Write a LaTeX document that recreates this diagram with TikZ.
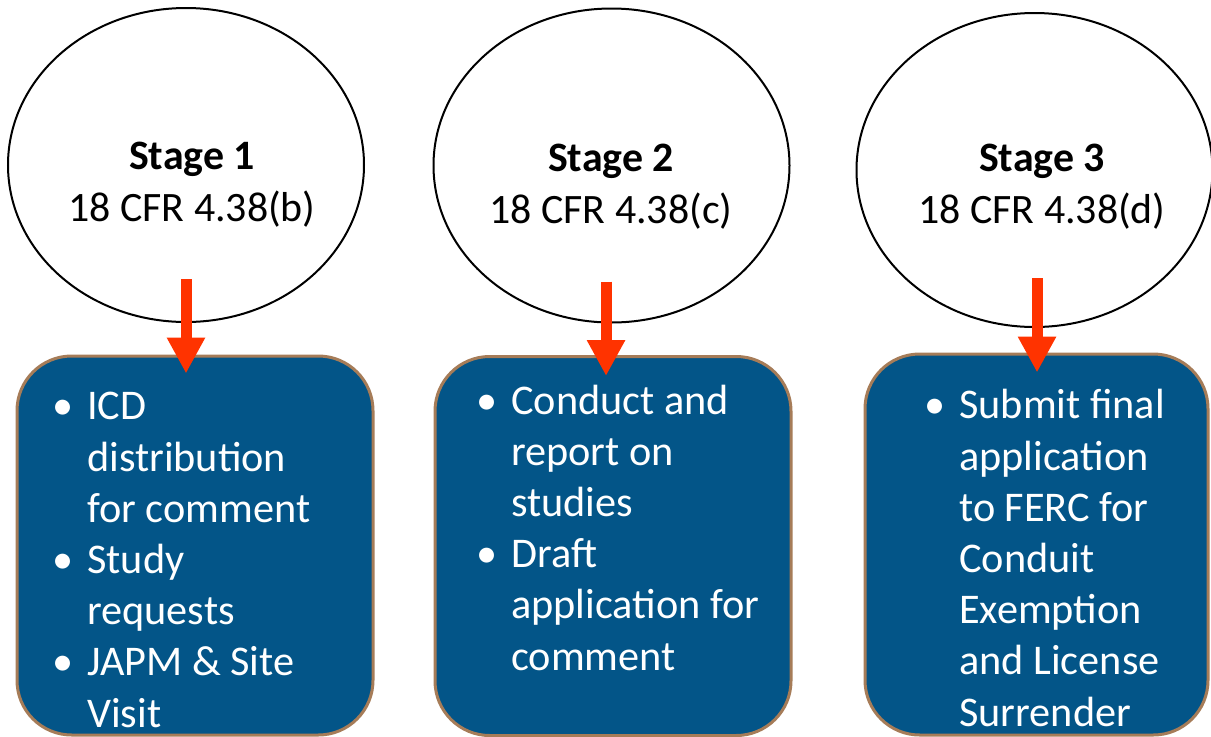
\documentclass[tikz,border=0pt]{standalone}
\usepackage{fontspec}
\setmainfont{Carlito}
\usetikzlibrary{arrows.meta,shapes.geometric,positioning}

\definecolor{boxblue}{RGB}{3,85,136}
\definecolor{boxrim}{RGB}{166,124,88}
\definecolor{arrowred}{RGB}{255,51,0}

\newcommand{\bul}{\makebox[26.25pt][l]{\textbullet}}
\newcommand{\ind}{\hspace*{26.25pt}}

\tikzset{
  stage/.style={draw=black, line width=1.5pt, ellipse, inner sep=0pt,
    minimum width=267pt, minimum height=235.5pt},
  stagetext/.style={align=center, inner sep=0pt, anchor=base,
    font=\fontsize{31.4}{39}\selectfont},
  task/.style={draw=boxrim, fill=boxblue, line width=2.25pt,
    rounded corners=41pt, inner sep=0pt, minimum height=284.25pt},
  tasktext/.style={align=left, inner sep=0pt, text=white, anchor=base west,
    font=\fontsize{31.7}{38.4}\selectfont},
  down/.style={draw=arrowred, line width=8.25pt,
    -{Triangle[width=27pt,length=27pt,fill=arrowred]}}
}

\begin{document}
\begin{tikzpicture}[x=0.75pt,y=-0.75pt]
        \useasboundingbox (0,0) rectangle (1211,736);

        % stages (text placed by its last line)
        \node[stage] (e1) at (186,165) {};
        \node[stage] (e2) at (611.5,165.5) {};
        \node[stage] (e3) at (1034.5,170) {};
        \node[stagetext] (s1) at (192,221) {\textbf{Stage 1}\\18 CFR 4.38(b)};
        \node[stagetext] (s2) at (611,223) {\textbf{Stage 2}\\18 CFR 4.38(c)};
        \node[stagetext] (s3) at (1042,223) {\textbf{Stage 3}\\18 CFR 4.38(d)};

        % tasks
        \node[task, minimum width=267pt] (b1) at (195,545.5) {};
        \node[task, minimum width=267pt] (b2) at (613,546) {};
        \node[task, minimum width=257.25pt, minimum height=285.75pt] (b3) at (1036.5,544.5) {};

        \node[tasktext] (l1) at (52,727) {\bul ICD\\\ind distribution\\\ind for comment\\
            \bul Study\\\ind requests\\\bul JAPM \& Site\\\ind Visit};
        \node[tasktext] (l2) at (476,670) {\bul Conduct and\\\ind report on\\\ind studies\\
            \bul Draft\\\ind application for\\\ind comment};
        \node[tasktext] (l3) at (924,726) {\bul Submit final\\\ind application\\\ind to FERC for\\
            \ind Conduit\\\ind Exemption\\\ind and License\\\ind Surrender};

        % arrows
        \draw[down] ([yshift=33pt]e1.south) -- ([yshift=-14.25pt]e1.south |- b1.north);
        \draw[down] ([xshift=-4.1pt,yshift=31.5pt]e2.south) -- ([xshift=-4.1pt,yshift=-15.75pt]e2.south |- b2.north);
        \draw[down] ([xshift=1.9pt,yshift=37.5pt]e3.south) -- ([xshift=1.9pt,yshift=-15pt]e3.south |- b3.north);

\end{tikzpicture}
\end{document}
